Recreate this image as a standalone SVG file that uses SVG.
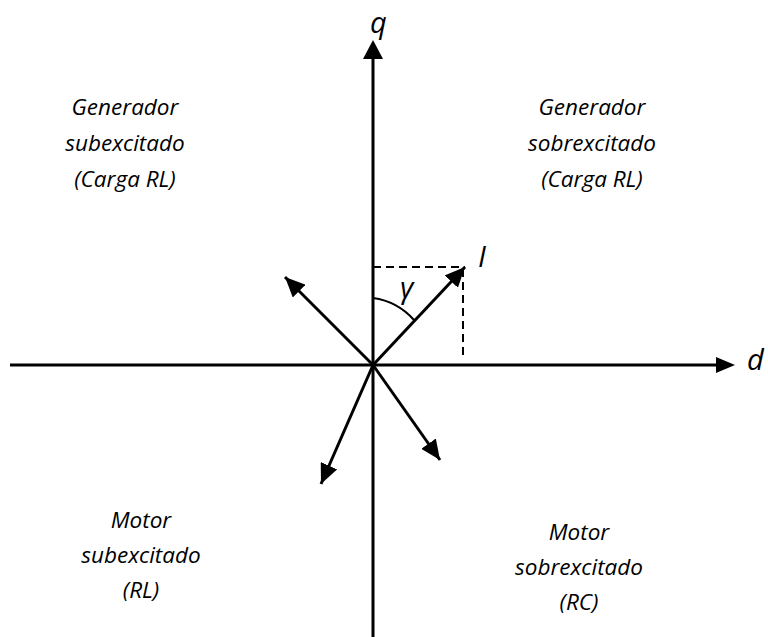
<svg xmlns="http://www.w3.org/2000/svg" width="768" height="637" viewBox="0 0 768 637">
<style>
.lbl{font-family:"Open Sans","Liberation Sans",Arial,sans-serif;font-style:italic;font-size:22.5px;fill:#000;text-anchor:middle}
.sym{font-family:"Open Sans","Liberation Sans",Arial,sans-serif;font-style:italic;font-size:29px;fill:#000}
.ax{stroke:#000;stroke-width:3;fill:none}
.vec{stroke:#000;stroke-width:3;fill:none;marker-end:url(#ah)}
.dash{stroke:#000;stroke-width:2;fill:none;stroke-dasharray:8 5}
</style>
<defs>
<marker id="ah" markerUnits="userSpaceOnUse" markerWidth="22" markerHeight="18" refX="20" refY="9" orient="auto">
<path d="M0,0 L20,9 L0,18 Z" fill="#000"/>
</marker>
</defs>
<rect width="768" height="637" fill="#fff"/>
<g id="connectors">
<line id="d-axis" class="ax" x1="10" y1="365" x2="718" y2="365"/>
<path d="M716,357 L735,365 L716,373 Z" fill="#000"/>
<line id="q-axis" class="ax" x1="373" y1="637" x2="373" y2="58"/>
<path d="M363,59 L373,40 L383,59 Z" fill="#000"/>
<line class="dash" x1="373" y1="267" x2="465" y2="267"/>
<line class="dash" x1="463" y1="269" x2="463" y2="360"/>
<line class="vec" x1="373" y1="365" x2="465" y2="267"/>
<line class="vec" x1="373" y1="365" x2="285" y2="277"/>
<line class="vec" x1="373" y1="365" x2="321" y2="484"/>
<line class="vec" x1="373" y1="365" x2="440" y2="460"/>
<path d="M373,298 A67,67 0 0 1 414,320" stroke="#000" stroke-width="2" fill="none"/>
</g>
<g id="label-q"><text class="sym" x="370" y="33">q</text></g>
<g id="label-d"><text class="sym" x="747" y="370">d</text></g>
<g id="label-I"><text class="sym" x="478" y="267">I</text></g>
<g id="label-gamma"><text class="sym" x="400" y="298">γ</text></g>
<g id="gen-sub">
<text class="lbl" x="125" y="115">Generador</text>
<text class="lbl" x="125" y="151">subexcitado</text>
<text class="lbl" x="125" y="187">(Carga RL)</text>
</g>
<g id="gen-sobre">
<text class="lbl" x="592" y="115">Generador</text>
<text class="lbl" x="592" y="151">sobrexcitado</text>
<text class="lbl" x="592" y="187">(Carga RL)</text>
</g>
<g id="mot-sub">
<text class="lbl" x="141" y="528">Motor</text>
<text class="lbl" x="141" y="563">subexcitado</text>
<text class="lbl" x="141" y="598">(RL)</text>
</g>
<g id="mot-sobre">
<text class="lbl" x="579" y="540">Motor</text>
<text class="lbl" x="579" y="575">sobrexcitado</text>
<text class="lbl" x="579" y="610">(RC)</text>
</g>
</svg>
